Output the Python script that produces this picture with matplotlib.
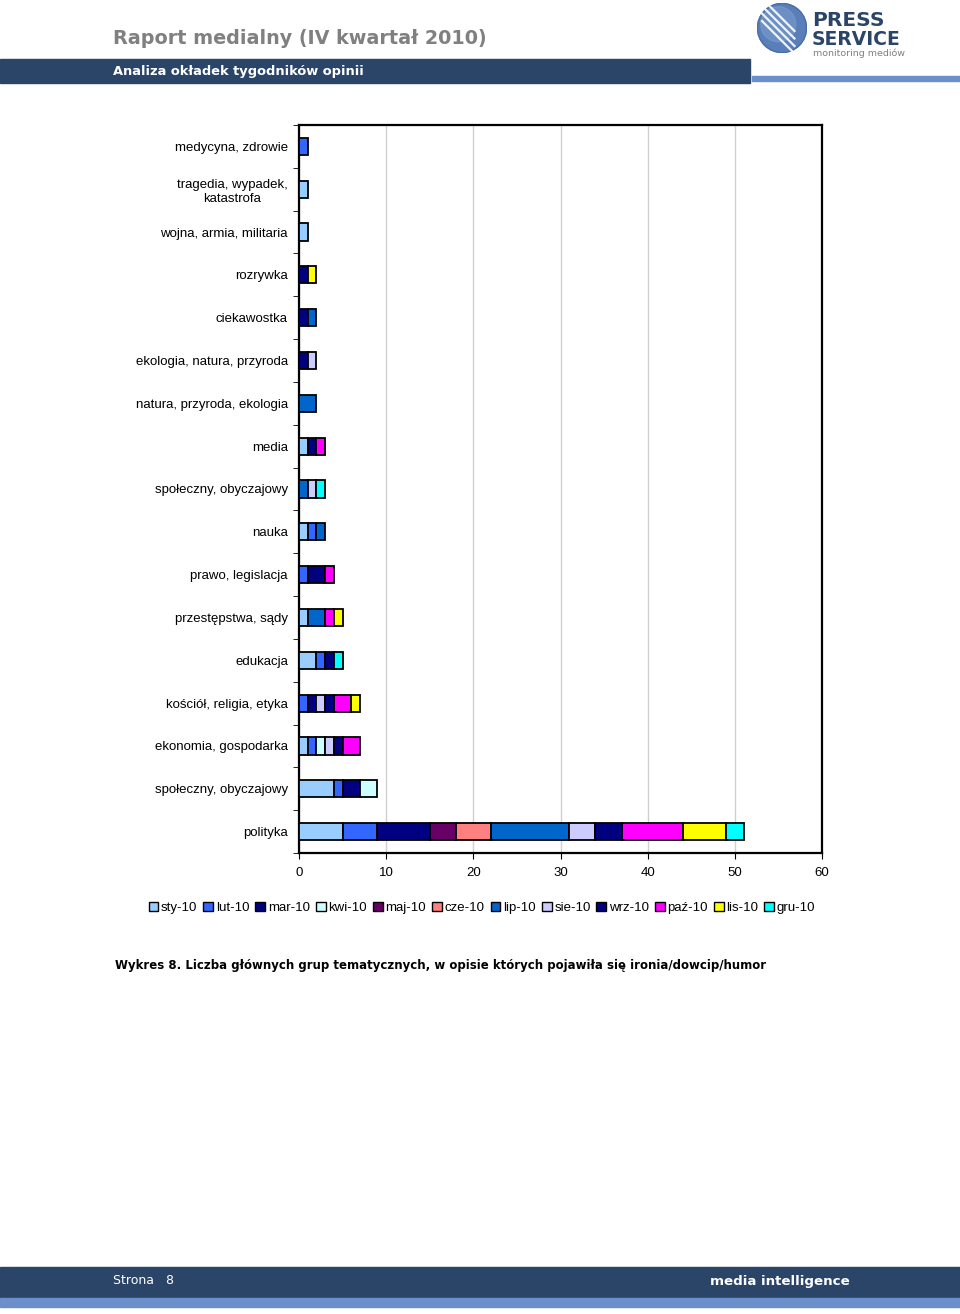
import matplotlib
matplotlib.use("Agg")
import matplotlib.pyplot as plt
import matplotlib.patches as mpatches
import numpy as np

# ---------------- data ----------------
categories = [
    "medycyna, zdrowie",
    "tragedia, wypadek,\nkatastrofa",
    "wojna, armia, militaria",
    "rozrywka",
    "ciekawostka",
    "ekologia, natura, przyroda",
    "natura, przyroda, ekologia",
    "media",
    "społeczny, obyczajowy",
    "nauka",
    "prawo, legislacja",
    "przestępstwa, sądy",
    "edukacja",
    "kościół, religia, etyka",
    "ekonomia, gospodarka",
    "społeczny, obyczajowy",
    "polityka",
]
months = ["sty-10", "lut-10", "mar-10", "kwi-10", "maj-10", "cze-10",
          "lip-10", "sie-10", "wrz-10", "paź-10", "lis-10", "gru-10"]

sty = [0, 1, 1, 0, 0, 0, 0, 1, 0, 1, 0, 1, 2, 0, 1, 4, 5]
lut = [1, 0, 0, 0, 0, 0, 0, 0, 0, 1, 1, 0, 1, 1, 1, 1, 4]
mar = [0, 0, 0, 1, 1, 1, 0, 1, 0, 0, 2, 0, 1, 1, 0, 2, 6]
kwi = [0, 0, 0, 0, 0, 0, 0, 0, 0, 0, 0, 0, 0, 0, 1, 2, 0]
maj = [0, 0, 0, 0, 0, 0, 0, 0, 0, 0, 0, 0, 0, 0, 0, 0, 3]
cze = [0, 0, 0, 0, 0, 0, 0, 0, 0, 0, 0, 0, 0, 0, 0, 0, 4]
lip = [0, 0, 0, 0, 1, 0, 2, 0, 1, 1, 0, 2, 0, 0, 0, 0, 9]
sie = [0, 0, 0, 0, 0, 1, 0, 0, 1, 0, 0, 0, 0, 1, 1, 0, 3]
wrz = [0, 0, 0, 0, 0, 0, 0, 0, 0, 0, 0, 0, 0, 1, 1, 0, 3]
paz = [0, 0, 0, 0, 0, 0, 0, 1, 0, 0, 1, 1, 0, 2, 2, 0, 7]
lis = [0, 0, 0, 1, 0, 0, 0, 0, 0, 0, 0, 1, 0, 1, 0, 0, 5]
gru = [0, 0, 0, 0, 0, 0, 0, 0, 1, 0, 0, 0, 1, 0, 0, 0, 2]

series = [sty, lut, mar, kwi, maj, cze, lip, sie, wrz, paz, lis, gru]
colors = ["#99CCFF", "#3366FF", "#000080", "#CCFFFF", "#660066", "#FF8080",
          "#0066CC", "#CCCCFF", "#000080", "#FF00FF", "#FFFF00", "#00FFFF"]

xticks = [0, 10, 20, 30, 40, 50, 60]

# ---------------- figure ----------------
plt.rcParams['font.family'] = ['Liberation Sans', 'DejaVu Sans']
W, H = 960, 1314
fig = plt.figure(figsize=(W / 100, H / 100), dpi=100)

def fx(px):
    return px / W

def fy(py):
    return 1 - py / H

HDR = ["DejaVu Sans"]

# header
fig.patches.append(mpatches.Rectangle((0, fy(83)), fx(750), (83 - 59) / H,
                                      transform=fig.transFigure, color="#2B4569", zorder=0))
fig.patches.append(mpatches.Rectangle((fx(752), fy(81)), fx(208), 5 / H,
                                      transform=fig.transFigure, color="#6B8FCB", zorder=0))
fig.text(fx(113), fy(38), "Raport medialny (IV kwartał 2010)", fontsize=13.8,
         fontweight="bold", color="#808080", family=HDR, va="center", ha="left")
fig.text(fx(113), fy(71), "Analiza okładek tygodników opinii", fontsize=9.4,
         fontweight="bold", color="white", family=HDR, va="center", ha="left")

# logo
lax = fig.add_axes([fx(757), fy(53), fx(50), 50 / H])
lax.set_xlim(-1, 1)
lax.set_ylim(-1, 1)
lax.set_aspect("equal")
lax.axis("off")
lax.add_patch(mpatches.Circle((0, 0), 0.98, color="#5A7FB8"))
lax.add_patch(mpatches.Circle((-0.15, 0.15), 0.7, color="#7FA0D0", alpha=0.5))
for off in [-0.35, -0.1, 0.15, 0.4]:
    t = np.linspace(-0.8, 0.5, 20)
    lax.plot(t, -t + off * 1.2 - 0.1, color="white", lw=1.6, alpha=0.9)
lax.add_patch(mpatches.Circle((0, 0), 0.98, fill=False, ec="#4A6FA8", lw=1))
fig.text(fx(812), fy(26), "PRESS", fontsize=14.5, fontweight="heavy", color="#2B4569",
         family="DejaVu Sans", va="baseline", ha="left")
fig.text(fx(812), fy(45), "SERVICE", fontsize=13.5, fontweight="heavy", color="#2B4569",
         family="DejaVu Sans", va="baseline", ha="left")
fig.text(fx(813), fy(56), "monitoring mediów", fontsize=6.8, color="#808080",
         family="DejaVu Sans", va="baseline", ha="left")

# footer
fig.patches.append(mpatches.Rectangle((0, fy(1298)), 1, (1298 - 1267) / H,
                                      transform=fig.transFigure, color="#2B4569", zorder=0))
fig.patches.append(mpatches.Rectangle((0, fy(1307)), 1, 9 / H,
                                      transform=fig.transFigure, color="#6B8FCB", zorder=0))
fig.text(fx(113), fy(1281), "Strona   8", fontsize=9, color="white",
         family=HDR, va="center", ha="left")
fig.text(fx(850), fy(1282), "media intelligence", fontsize=9.6, fontweight="bold", color="white",
         family=HDR, va="center", ha="right")

# main chart
ax = fig.add_axes([fx(299), fy(853), fx(822 - 299), (853 - 125) / H])
n = len(categories)
ypos = np.arange(n)[::-1]  # first category at top
left = np.zeros(n)
handles = []
for name, vals, col in zip(months, series, colors):
    vals = np.array(vals, dtype=float)
    mask = vals > 0
    ax.barh(ypos[mask], vals[mask], left=left[mask], height=0.4, color=col,
            edgecolor="black", linewidth=1.3, zorder=3)
    left += vals
    handles.append(mpatches.Patch(facecolor=col, edgecolor="black", linewidth=1.0, label=name))

ax.set_xlim(0, 60)
ax.set_ylim(-0.5, n - 0.5)
ax.set_xticks(xticks)
ax.set_xticklabels([str(v) for v in xticks], fontsize=9.5)
ax.set_yticks(ypos)
ax.set_yticklabels(categories, fontsize=9.5, ha="right", multialignment="center")
ax.tick_params(axis="y", length=0, pad=8)
ax.tick_params(axis="x", length=4, pad=6, direction="out")
ax.set_yticks(np.arange(-0.5, n, 1.0), minor=True)
ax.tick_params(axis="y", which="minor", length=4, color="black", width=0.6)
ax.grid(axis="x", color="#D0D0D0", linewidth=1.0, zorder=0)
for sp in ax.spines.values():
    sp.set_linewidth(1.6)
    sp.set_color("black")

fig.legend(handles=handles, loc="center", bbox_to_anchor=(fx(482), fy(908)), ncol=12,
           frameon=False, fontsize=9.5, handlelength=0.75, handleheight=0.75,
           handletextpad=0.2, columnspacing=0.45, borderaxespad=0)

fig.text(fx(115), fy(965),
         "Wykres 8. Liczba głównych grup tematycznych, w opisie których pojawiła się ironia/dowcip/humor",
         fontsize=8.5, fontweight="bold", family=HDR, va="center", ha="left")

fig.savefig("out.png", dpi=100)
